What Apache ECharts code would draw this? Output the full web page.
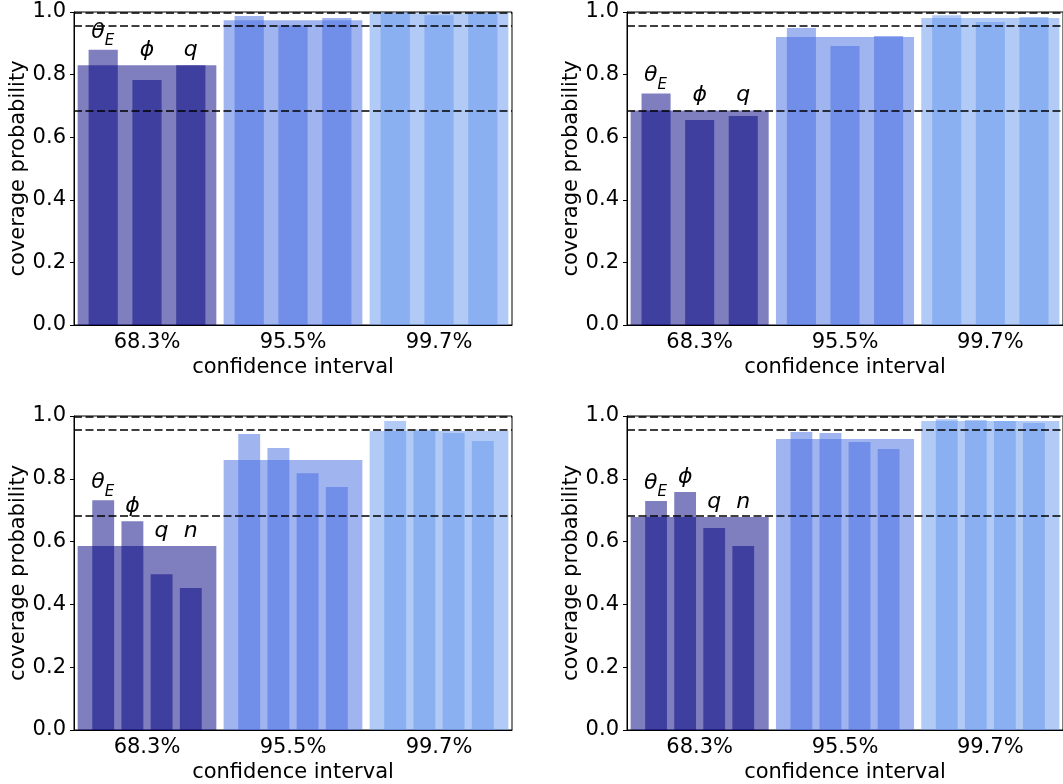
<!DOCTYPE html>
<html>
<head>
<meta charset="utf-8">
<script src="https://cdn.jsdelivr.net/npm/echarts@6/dist/echarts.min.js"></script>
<style>
html,body{margin:0;padding:0;background:#fff;}
#chart{width:1063px;height:784px;}
</style>
</head>
<body>
<div id="chart"></div>
<script>
// ---- data ----
const ciLabels = ['68.3%', '95.5%', '99.7%'];
const ciLevels = [0.683, 0.955, 0.997];
const paramsTop = ['θ_E', 'ϕ', 'q'];
const paramsBottom = ['θ_E', 'ϕ', 'q', 'n'];

// panel A (top-left)
const wideA = [0.830, 0.974, 0.996];
const narrowA = [[0.879, 0.783, 0.830], [0.987, 0.958, 0.981], [0.999, 0.990, 0.998]];
// panel B (top-right)
const wideB = [0.685, 0.920, 0.981];
const narrowB = [[0.740, 0.655, 0.668], [0.949, 0.891, 0.923], [0.990, 0.968, 0.984]];
// panel C (bottom-left)
const wideC = [0.586, 0.860, 0.952];
const narrowC = [[0.732, 0.665, 0.496, 0.452], [0.943, 0.898, 0.818, 0.774], [0.984, 0.957, 0.946, 0.920]];
// panel D (bottom-right)
const wideD = [0.678, 0.927, 0.984];
const narrowD = [[0.729, 0.758, 0.643, 0.586], [0.949, 0.946, 0.917, 0.895], [0.990, 0.987, 0.984, 0.978]];

// ---- styles / layout ----
const groupColors = ['rgba(0,0,128,0.5)', 'rgba(65,105,225,0.5)', 'rgba(100,149,237,0.5)'];
const FONT = 'DejaVu Sans';
const FS = 21;
const panels = [
  {params: paramsTop, wide: wideA, narrow: narrowA, grid: {left: 74, top: 12, width: 438, height: 313}},
  {params: paramsTop, wide: wideB, narrow: narrowB, grid: {left: 627, top: 12, width: 437, height: 313}},
  {params: paramsBottom, wide: wideC, narrow: narrowC, grid: {left: 74, top: 416, width: 438, height: 314}},
  {params: paramsBottom, wide: wideD, narrow: narrowD, grid: {left: 627, top: 416, width: 437, height: 314}}
];

const grids = [], xAxes = [], yAxes = [], series = [];
panels.forEach((p, k) => {
  grids.push(Object.assign({show: true, borderColor: '#000', borderWidth: 1, containLabel: false}, p.grid));
  xAxes.push({
    type: 'category', gridIndex: k, data: ciLabels, boundaryGap: true, z: 5,
    name: 'confidence interval', nameLocation: 'middle', nameGap: 32,
    nameTextStyle: {fontFamily: FONT, fontSize: FS, color: '#000'},
    axisLine: {lineStyle: {color: '#000', width: 1}},
    axisTick: {alignWithLabel: true, length: 4, lineStyle: {color: '#000'}},
    axisLabel: {fontFamily: FONT, fontSize: FS, color: '#000', margin: 7},
    splitLine: {show: false}
  });
  yAxes.push({
    type: 'value', gridIndex: k, min: 0, max: 1, interval: 0.2, z: 5,
    name: 'coverage probability', nameLocation: 'middle', nameGap: 45, nameRotate: 90,
    nameTextStyle: {fontFamily: FONT, fontSize: FS, color: '#000'},
    axisLine: {show: true, lineStyle: {color: '#000', width: 1}},
    axisTick: {show: true, length: 4, lineStyle: {color: '#000'}},
    axisLabel: {fontFamily: FONT, fontSize: FS, color: '#000', margin: 8, formatter: v => v.toFixed(1)},
    splitLine: {show: false}
  });
  const n = p.params.length;
  // wide bars (one per confidence interval)
  series.push({
    type: 'custom', xAxisIndex: k, yAxisIndex: k, z: 2,
    data: p.wide.map((v, i) => [i, v]),
    encode: {x: 0, y: 1},
    renderItem: (params, api) => {
      const i = api.value(0), v = api.value(1);
      const top = api.coord([i, v]);
      const base = api.coord([i, 0]);
      const bw = api.size([1, 0])[0];
      return {
        type: 'rect',
        shape: {x: top[0] - 0.475 * bw, y: top[1], width: 0.95 * bw, height: base[1] - top[1]},
        style: {fill: groupColors[i]}
      };
    }
  });
  // narrow bars (one per parameter) + parameter labels
  const nd = [];
  p.narrow.forEach((arr, i) => arr.forEach((v, j) => nd.push([i, j, v, p.wide[i]])));
  series.push({
    type: 'custom', xAxisIndex: k, yAxisIndex: k, z: 3,
    data: nd,
    encode: {x: 0, y: 2},
    renderItem: (params, api) => {
      const i = api.value(0), j = api.value(1), v = api.value(2), w = api.value(3);
      const bw = api.size([1, 0])[0];
      const off = -0.3 + j * 0.6 / (n - 1);
      const width = 0.6 / n;
      const top = api.coord([i, v]);
      const base = api.coord([i, 0]);
      const cx = top[0] + off * bw;
      const children = [{
        type: 'rect',
        shape: {x: cx - width / 2 * bw, y: top[1], width: width * bw, height: base[1] - top[1]},
        style: {fill: groupColors[i]}
      }];
      if (i === 0) {
        const lab = p.params[j];
        const ly = api.coord([i, Math.max(v, w)])[1] - 4;
        const parts = lab.split('_');
        if (parts.length === 2) {
          children.push({type: 'text', x: cx + 1.5, y: ly - 3, style: {text: parts[0], fontFamily: FONT, fontStyle: 'italic', fontSize: 22, fill: '#000', align: 'right', verticalAlign: 'bottom'}});
          children.push({type: 'text', x: cx + 1.5, y: ly + 3, style: {text: parts[1], fontFamily: FONT, fontStyle: 'italic', fontSize: 15, fill: '#000', align: 'left', verticalAlign: 'bottom'}});
        } else {
          children.push({type: 'text', x: cx, y: ly, style: {text: lab, fontFamily: FONT, fontStyle: 'italic', fontSize: 22, fill: '#000', align: 'center', verticalAlign: 'bottom'}});
        }
      }
      return {type: 'group', children: children};
    },
    markLine: {
      silent: true, symbol: 'none', z: 10, precision: 4,
      label: {show: false},
      lineStyle: {color: '#000', type: [8, 3.5], width: 1.5},
      data: ciLevels.map(v => ({yAxis: v}))
    }
  });
});

const chart = echarts.init(document.getElementById('chart'), null, {renderer: 'canvas'});
chart.setOption({
  animation: false,
  backgroundColor: '#fff',
  grid: grids, xAxis: xAxes, yAxis: yAxes, series: series
});
</script>
</body>
</html>
